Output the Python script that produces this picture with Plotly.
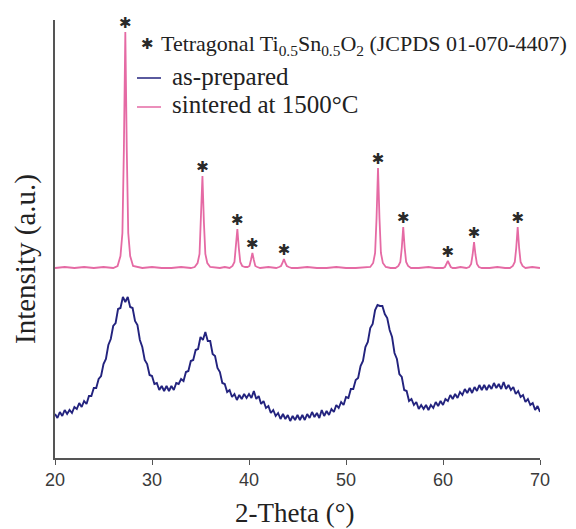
import numpy as np
import plotly.graph_objects as go

# ---------------- data ----------------
# as-prepared pattern, sampled every 0.25 deg from 20 to 70 (intensity, arbitrary units)
blue_theta = np.round(np.arange(20.0, 70.0001, 0.25), 2)
blue_int = [
    44, 40, 46, 42, 48, 44, 48, 45, 51, 49, 55, 51, 57, 54, 62, 62,
    70, 70, 79, 82, 94, 99, 113, 119, 132, 135, 149, 150, 161, 156, 161, 151,
    150, 137, 133, 118, 111, 98, 94, 83, 82, 74, 75, 68, 72, 67, 72, 67,
    72, 68, 75, 74, 79, 77, 86, 87, 97, 98, 108, 109, 121, 118, 126, 117,
    117, 104, 102, 90, 86, 75, 74, 66, 68, 61, 64, 58, 63, 59, 64, 60,
    64, 60, 67, 59, 62, 54, 57, 50, 52, 45, 48, 42, 45, 39, 44, 39,
    43, 37, 42, 38, 43, 38, 43, 38, 44, 40, 46, 41, 45, 40, 48, 42,
    47, 43, 49, 46, 53, 50, 56, 53, 61, 60, 69, 69, 78, 80, 92, 97,
    111, 116, 130, 134, 148, 153, 152, 152, 144, 140, 128, 121, 105, 99, 84, 81,
    68, 67, 57, 59, 53, 56, 49, 53, 49, 53, 48, 53, 50, 56, 52, 57,
    53, 59, 57, 63, 59, 64, 60, 66, 63, 69, 65, 70, 65, 71, 67, 73,
    68, 73, 68, 73, 69, 75, 70, 74, 69, 76, 69, 73, 68, 71, 64, 67,
    61, 63, 56, 59, 53, 55, 48, 52, 46,
]

# sintered at 1500 C pattern
pink_theta = [
    20.0, 21.0, 22.0, 23.0, 24.0, 25.0, 26.0,
    26.45, 26.75, 26.95, 27.1, 27.25, 27.4, 27.55, 27.75, 28.05,
    29.0, 30.0, 31.0, 32.0, 33.0, 34.0,
    34.4, 34.7, 34.9, 35.05, 35.2, 35.35, 35.5, 35.7, 36.0,
    37.0, 37.5,
    38.0, 38.3, 38.5, 38.65, 38.8, 38.95, 39.1, 39.3,
    39.6,
    39.85, 40.05, 40.2, 40.35, 40.5, 40.65, 40.85, 41.15,
    42.0,
    42.8, 43.1, 43.3, 43.45, 43.6, 43.75, 43.9, 44.1, 44.4,
    45.0, 46.0, 47.0, 48.0, 49.0, 50.0, 51.0, 52.0,
    52.5, 52.8, 53.0, 53.15, 53.3, 53.45, 53.6, 53.8, 54.1,
    54.6,
    55.1, 55.4, 55.6, 55.75, 55.9, 56.05, 56.2, 56.4, 56.7,
    57.5, 58.5, 59.2,
    59.7, 60.0, 60.2, 60.35, 60.5, 60.65, 60.8, 61.0, 61.3,
    61.8,
    62.4, 62.7, 62.9, 63.05, 63.2, 63.35, 63.5, 63.7, 64.0,
    64.8, 65.6, 66.4,
    66.9, 67.2, 67.4, 67.55, 67.7, 67.85, 68.0, 68.2, 68.5,
    69.2, 70.0,
]
pink_int = [
    190, 191, 190, 191, 190, 191, 190,
    192, 202, 225, 308, 426, 308, 225, 202, 192,
    190, 191, 190, 190, 191, 190,
    191, 195, 204, 236, 282, 236, 204, 195, 191,
    190, 191,
    190, 192, 196, 210, 229, 210, 196, 192,
    191,
    191, 192, 198, 205, 198, 192, 191, 190,
    191,
    190, 191, 192, 195, 199, 195, 192, 191, 190,
    190, 191, 190, 190, 191, 190, 190, 191,
    191, 195, 205, 240, 290, 240, 205, 195, 191,
    190,
    190, 192, 196, 210, 231, 210, 196, 192, 190,
    190, 191, 190,
    190, 190, 191, 194, 197, 194, 191, 190, 190,
    191,
    190, 191, 194, 203, 216, 203, 194, 191, 190,
    190, 191, 190,
    190, 192, 196, 210, 231, 210, 196, 192, 190,
    191, 190,
]

# reflections of tetragonal Ti0.5Sn0.5O2 marked with asterisks
peak_theta = [27.25, 35.2, 38.8, 40.35, 43.6, 53.3, 55.9, 60.5, 63.2, 67.7]
peak_top = [426, 282, 229, 205, 199, 290, 231, 197, 216, 231]

x_ticks = [20, 30, 40, 50, 60, 70]

BLUE = "#23237e"
PINK = "#e56aa4"
STAR_COLOR = "#2a2a2a"
SERIF = "Liberation Serif, Times New Roman, serif"
SANS = "Liberation Sans, Arial, sans-serif"
STAR = "✱"
STAR_FONT = "DejaVu Sans"

# ---------------- figure ----------------
fig = go.Figure()
fig.add_trace(go.Scatter(x=blue_theta, y=blue_int, mode="lines",
                         line=dict(color=BLUE, width=1.9), showlegend=False,
                         hoverinfo="skip"))
fig.add_trace(go.Scatter(x=pink_theta, y=pink_int, mode="lines",
                         line=dict(color=PINK, width=1.8), showlegend=False,
                         hoverinfo="skip"))
fig.add_trace(go.Scatter(x=peak_theta, y=peak_top, mode="text", text=[STAR] * len(peak_theta),
                         textposition="top center",
                         textfont=dict(family=STAR_FONT, size=15, color=STAR_COLOR),
                         cliponaxis=False, showlegend=False, hoverinfo="skip"))

W, H = 576, 529
L, R, T, B = 55, 36, 20, 71
pw, ph = W - L - R, H - T - B


def px(xp):
    return (xp - L) / pw


def py(yp):
    return (H - B - yp) / ph


annotations = [
    dict(x=px(25), y=py(259), xref="paper", yref="paper", text="Intensity (a.u.)",
         textangle=-90, showarrow=False, font=dict(family=SERIF, size=29, color="#222222"),
         xanchor="center", yanchor="middle"),
    dict(x=px(294), y=py(513), xref="paper", yref="paper", text="2-Theta (°)",
         showarrow=False, font=dict(family=SERIF, size=27, color="#222222"),
         xanchor="center", yanchor="middle"),
    dict(x=px(147), y=py(44), xref="paper", yref="paper", text=STAR,
         showarrow=False, font=dict(family=STAR_FONT, size=15, color=STAR_COLOR),
         xanchor="center", yanchor="middle"),
    dict(x=px(159), y=py(45), xref="paper", yref="paper",
         text="Tetragonal Ti<sub>0.5</sub>Sn<sub>0.5</sub>O<sub>2</sub> (JCPDS 01-070-4407)",
         showarrow=False, font=dict(family=SERIF, size=22, color="#222222"),
         xanchor="left", yanchor="middle"),
    dict(x=px(170), y=py(76), xref="paper", yref="paper", text="as-prepared",
         showarrow=False, font=dict(family=SERIF, size=25, color="#222222"),
         xanchor="left", yanchor="middle"),
    dict(x=px(170), y=py(104), xref="paper", yref="paper", text="sintered at 1500°C",
         showarrow=False, font=dict(family=SERIF, size=25, color="#222222"),
         xanchor="left", yanchor="middle"),
]

shapes = [
    dict(type="line", xref="paper", yref="paper", x0=px(137), x1=px(161), y0=py(78), y1=py(78),
         line=dict(color=BLUE, width=1.5)),
    dict(type="line", xref="paper", yref="paper", x0=px(137), x1=px(161), y0=py(107), y1=py(107),
         line=dict(color=PINK, width=1.5)),
]

fig.update_layout(
    width=W, height=H,
    margin=dict(l=L, r=R, t=T, b=B, pad=0),
    paper_bgcolor="white", plot_bgcolor="white",
    showlegend=False,
    annotations=annotations,
    shapes=shapes,
    xaxis=dict(range=[20, 70], tickvals=x_ticks, ticktext=[str(v) for v in x_ticks],
               ticks="outside", ticklen=5, tickwidth=1.2, tickcolor="#555555",
               showline=True, linecolor="#555555", linewidth=1.5,
               showgrid=False, zeroline=False,
               tickfont=dict(family=SANS, size=18, color="#3a3a3a")),
    yaxis=dict(range=[0, 438], showline=True, linecolor="#555555", linewidth=1.5,
               showticklabels=False, ticks="", showgrid=False, zeroline=False),
)

fig.write_html("out.html")
